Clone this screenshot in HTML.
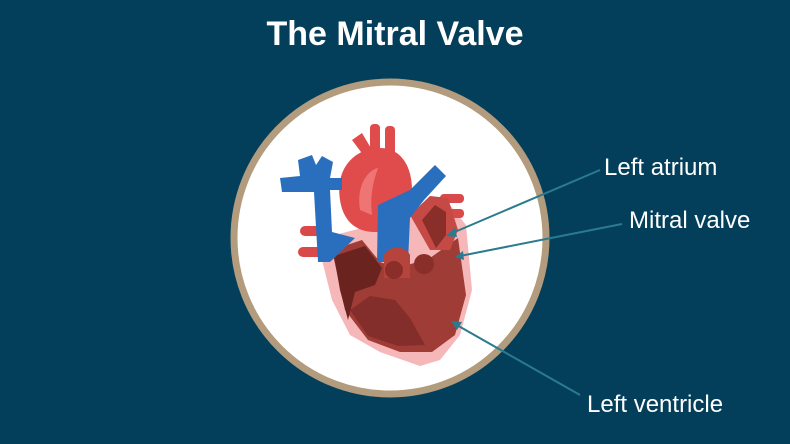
<!DOCTYPE html>
<html><head><style>
html,body{margin:0;padding:0;background:#033f5a;}
body{width:790px;height:444px;overflow:hidden;position:relative;font-family:"Liberation Sans",sans-serif;}
.t{position:absolute;color:#fff;}
</style></head><body>
<div class="t" style="left:0;width:790px;top:15px;text-align:center;font-size:34px;font-weight:bold;">The Mitral Valve</div>
<svg width="790" height="444" style="position:absolute;left:0;top:0">
<circle cx="390" cy="238" r="156" fill="#fff" stroke="#b39b7e" stroke-width="7"/>
<!-- pink body -->
<path d="M322,260 L335,235 L450,205 L466,225 L472,290 L460,335 L440,360 L420,366 L380,352 L350,335 L332,300 Z" fill="#f6b7b9"/>
<!-- side vessels -->
<rect x="300" y="226" width="22" height="10" rx="5" fill="#d9494a"/>
<rect x="298" y="247" width="26" height="10" rx="5" fill="#d9494a"/>
<rect x="440" y="194" width="24" height="9" rx="4" fill="#d9494a"/>
<rect x="440" y="209" width="24" height="9" rx="4" fill="#d9494a"/>
<!-- dark ventricles -->
<path d="M332,250 L362,240 L380,262 L398,268 L430,258 L458,238 L466,295 L455,335 L432,352 L400,352 L368,340 L345,310 Z" fill="#a03c36"/>
<path d="M334,256 L365,246 L382,268 L375,285 L355,292 L348,320 L340,290 Z" fill="#6b2320"/>
<path d="M350,310 L370,296 L395,300 L410,318 L425,345 L398,346 L368,336 Z" fill="#6b2320" opacity="0.55"/>
<!-- left atrium -->
<path d="M410,215 L430,196 L448,198 L458,230 L450,250 L430,250 Z" fill="#c54a45"/>
<path d="M422,220 L435,205 L446,212 L446,235 L436,248 L428,232 Z" fill="#8a2e2a"/>
<!-- aorta top arteries -->
<path d="M352,140 L362,133 L372,150 L364,156 Z" fill="#e04b4b"/>
<rect x="370" y="124" width="10" height="30" rx="4" fill="#e04b4b"/>
<rect x="385" y="126" width="10" height="30" rx="4" fill="#e04b4b"/>
<!-- aorta -->
<path d="M340,200 C335,168 355,148 380,148 C400,148 412,165 412,190 C412,215 400,232 375,232 C355,232 343,220 340,200 Z" fill="#e04b4b"/>
<path d="M360,210 C356,185 368,170 378,168 C372,185 370,198 372,215 Z" fill="#ef7575"/>
<!-- blue vessels -->
<path d="M280,178 L300,176 L298,160 L312,155 L316,165 L322,156 L333,162 L330,178 L342,178 L342,190 L330,190 L332,232 L355,238 L330,262 L318,262 L314,192 L282,192 Z" fill="#2a6fbd"/>
<path d="M377,262 L378,205 L410,190 L435,165 L446,176 L424,200 L410,218 L408,262 Z" fill="#2a6fbd"/>
<path d="M384,255 C390,245 405,245 410,255 L410,278 L384,278 Z" fill="#b5443d"/>
<circle cx="394" cy="270" r="9" fill="#8a2e2a"/>
<circle cx="424" cy="264" r="10" fill="#8a2e2a"/>
<!-- lines -->
<g stroke="#2b7b8f" stroke-width="2">
<line x1="600" y1="170" x2="450" y2="234"/>
<line x1="622" y1="224" x2="460" y2="256"/>
<line x1="580" y1="395" x2="455" y2="324"/>
</g>
<polygon points="446,236 455,228 457,237" fill="#2b7b8f"/>
<polygon points="455,257 463,251 464,260" fill="#2b7b8f"/>
<polygon points="451,321 462,322 457,330" fill="#2b7b8f"/>
</svg>
<div class="t" style="left:604px;top:154px;font-size:24px;">Left atrium</div>
<div class="t" style="left:629px;top:207px;font-size:24px;">Mitral valve</div>
<div class="t" style="left:587px;top:391px;font-size:24px;">Left ventricle</div>
</body></html>
